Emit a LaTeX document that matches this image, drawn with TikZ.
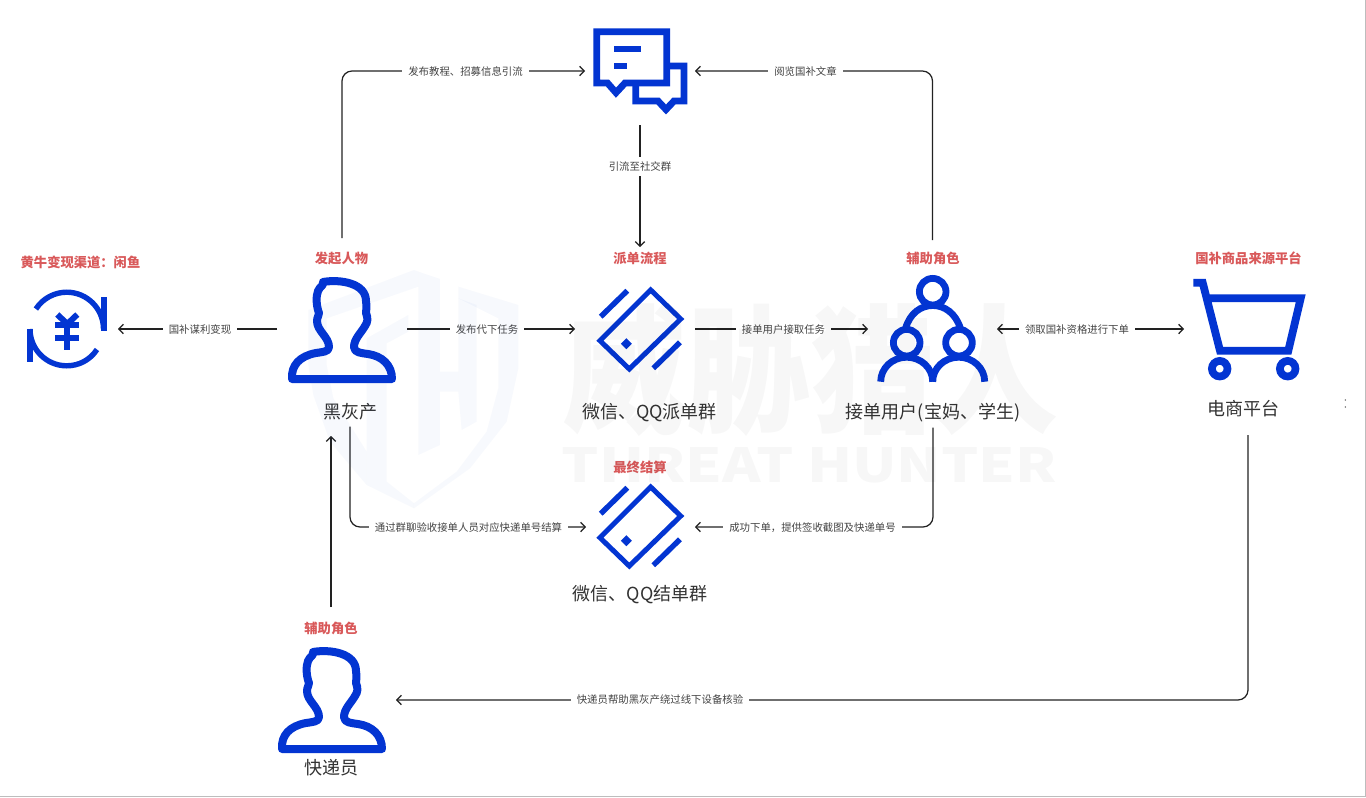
\documentclass[tikz,border=0pt]{standalone}
\usepackage{fontspec}
\usepackage{graphicx}
\setmainfont{Noto Sans CJK SC}
\usetikzlibrary{arrows.meta}
\definecolor{iconblue}{HTML}{0335D2}
\definecolor{redlabel}{HTML}{D9595A}
\definecolor{linedark}{HTML}{222222}
\definecolor{smalltext}{HTML}{444444}
\definecolor{bigtext}{HTML}{333333}
\definecolor{frameline}{HTML}{BDBDBD}
\definecolor{shieldblue}{HTML}{2F62D0}
\tikzset{
  anchorbox/.style={draw=none,fill=none,inner sep=0pt,outer sep=0pt,minimum width=#1},
  conn/.style={draw=linedark,line width=1.25pt,rounded corners=10pt},
  arrowconn/.style={conn,-{Straight Barb[length=4.5pt,width=9.5pt,line width=1.25pt]}},
  flowlabel/.style={fill=white,text=smalltext,inner xsep=6pt,inner ysep=2pt,font=\fontsize{10.4}{12}\selectfont},
  rolelabel/.style={text=redlabel,inner sep=1pt,font=\fontsize{13.3}{16}\selectfont\bfseries},
  namelabel/.style={text=bigtext,inner sep=0pt,minimum height=30pt,font=\fontsize{18}{20}\selectfont},
  iconline/.style={draw=iconblue,fill=none,line width=#1},
  iconline/.default=6.8pt
}
\newcommand{\personshape}{%
  \draw[iconline=8pt,line join=round,line cap=round]
    (292,379) .. controls (291,365) and (300,356) .. (316,353)
    .. controls (322,352) and (329,352) .. (329,347)
    .. controls (329,337) and (317,331) .. (317,321)
    .. controls (317,317) and (319,316) .. (319,313)
    .. controls (316,305) and (316,296) .. (318,291)
    .. controls (320,286) and (324,286) .. (323,282)
    .. controls (340,279) and (366,283) .. (366,301)
    .. controls (367,307) and (366,311) .. (366,313)
    .. controls (368,318) and (368,322) .. (365,326)
    .. controls (361,333) and (354,339) .. (354,347)
    .. controls (354,353) and (362,353) .. (368,354)
    .. controls (382,356) and (392,365) .. (392,379) -- cycle;
}
\newcommand{\cardshape}{%
  \draw[iconline=5pt,line join=miter] (650.7,290) -- (680.7,319) -- (629.3,369) -- (600,340.7) -- cycle;
  \draw[iconline=5.4pt] (600.7,316.7) -- (627.3,290.7);
  \draw[iconline=5.4pt] (653.3,368.3) -- (680,342.3);
  \fill[iconblue] (626.3,338.2) -- (631.8,343.7) -- (626.3,349.2) -- (620.8,343.7) -- cycle;
}
\begin{document}
\begin{tikzpicture}[x=1pt,y=-1pt]
\useasboundingbox (0,0) rectangle (1366,798);
\fill[white] (0,0) rectangle (1366,798);

% invisible anchor nodes around the icons
\node[anchorbox=100pt,minimum height=90pt] (yen) at (68,329) {};
\node[anchorbox=130pt,minimum height=182pt] (boss) at (342,329) {};
\node[anchorbox=110pt,minimum height=108pt] (bubble) at (640,71) {};
\node[anchorbox=120pt,minimum height=164pt] (disp) at (635,329) {};
\node[anchorbox=129pt,minimum height=178pt] (group) at (932.5,329) {};
\node[anchorbox=128pt,minimum height=212pt] (cart) at (1248,329) {};
\node[anchorbox=109pt,minimum height=100pt] (settle) at (640.5,527) {};
\node[anchorbox=130pt,minimum height=186pt] (courier) at (331,700) {};
\coordinate (bossin) at (331,436);

% role labels
\node[rolelabel] (r0) at (80.5,262) {黄牛变现渠道：闲鱼};
\node[rolelabel] (r1) at (341.5,258) {发起人物};
\node[rolelabel] (r2) at (640,258) {派单流程};
\node[rolelabel] (r3) at (933,258) {辅助角色};
\node[rolelabel] (r4) at (1248.5,258) {国补商品来源平台};
\node[rolelabel] (r5) at (640,467) {最终结算};
\node[rolelabel] (r6) at (331,628) {辅助角色};

% name labels
\node[namelabel] (lblboss) at (350,411.5) {黑灰产};
\node[namelabel] (lbldisp) at (649.5,412.5) {微信、QQ派单群};
\node[namelabel] (lblgroup) at (933,412.5) {接单用户(宝妈、学生)};
\node[namelabel] (lblcart) at (1243,408.5) {电商平台};
\node[namelabel] (lblsettle) at (640,594.5) {微信、QQ结单群};
\node[namelabel] (lblcourier) at (331,767.5) {快递员};

% connectors
\draw[arrowconn] (boss.north) |- (bubble.west);
\draw[arrowconn] (group.north) |- (bubble.east);
\draw[arrowconn] (bubble.south) -- (bubble.south |- disp.north);
\draw[arrowconn] (boss.west) -- (yen.east);
\draw[arrowconn] (boss.east) -- (disp.west);
\draw[arrowconn] (disp.east) -- (group.west);
\draw[conn,{Straight Barb[length=4.5pt,width=9.5pt,line width=1.25pt]}-{Straight Barb[length=4.5pt,width=9.5pt,line width=1.25pt]}] (group.east) -- (cart.west);
\draw[arrowconn] (lblboss.south) |- (settle.west);
\draw[arrowconn] (lblgroup.south) |- (settle.east);
\draw[arrowconn] (courier.north) -- (bossin);
\draw[arrowconn] (cart.south) |- (courier.east);

% connector labels
\node[flowlabel] (f1) at (465.5,71.5) {发布教程、招募信息引流};
\node[flowlabel] (f2) at (805.5,71.5) {阅览国补文章};
\node[flowlabel,inner xsep=2pt,inner ysep=5pt] (f3) at (640,166.5) {引流至社交群};
\node[flowlabel] (f4) at (200,330) {国补谋利变现};
\node[flowlabel] (f5) at (487,330) {发布代下任务};
\node[flowlabel] (f6) at (783.5,330) {接单用户接取任务};
\node[flowlabel] (f7) at (1077,330) {领取国补资格进行下单};
\node[flowlabel] (f8) at (468.5,528) {通过群聊验收接单人员对应快递单号结算};
\node[flowlabel] (f9) at (812.5,528) {成功下单，提供签收截图及快递单号};
\node[flowlabel] (f10) at (660,700) {快递员帮助黑灰产绕过线下设备核验};

% chat bubbles icon
\draw[iconline,line join=miter] (625,83) -- (616,92.7) -- (607.5,83) -- (596.7,83) -- (596.7,31.7) -- (666.7,31.7) -- (666.7,83) -- cycle;
\draw[iconline,line join=miter] (669,66) -- (684,66) -- (684,101) -- (674,101) -- (666,109.5) -- (658,101) -- (635.7,101) -- (635.7,85);
\fill[iconblue] (614.3,45.7) rectangle (640.7,52.3);
\fill[iconblue] (614.3,63.3) rectangle (627.3,69.3);

% yen icon
\draw[iconline=5.4pt] (35.9,309) .. controls (43,298) and (55,292.2) .. (66.7,292.2) .. controls (87,292.2) and (103.5,308.6) .. (103.5,329);
\draw[iconline=5.4pt] (30,329) .. controls (30,349.4) and (46.4,365.8) .. (66.7,365.8) .. controls (79,365.8) and (90,360) .. (97,349.5);
\fill[iconblue] (100.7,297.3) rectangle (106.7,330.7);
\fill[iconblue] (27.3,329.3) rectangle (33.3,361.7);
\draw[iconline=6pt] (57.3,314.5) -- (67.3,324) -- (77.3,314.5);
\draw[iconline=6pt] (67.3,324) -- (67.3,350);
\fill[iconblue] (55,322) rectangle (79.3,328.3);
\fill[iconblue] (55,335) rectangle (79.3,341.3);

% people
\personshape
\begin{scope}[shift={(-10,370)}]\personshape\end{scope}

% cards
\cardshape
\begin{scope}[shift={(0,197)}]\cardshape\end{scope}

% group icon
\draw[iconline] (932.7,291.7) circle[radius=13.3pt];
\draw[iconline] (906.7,342.7) circle[radius=13.3pt];
\draw[iconline] (959,342.7) circle[radius=13.3pt];
\draw[iconline] (905.5,328.5) .. controls (910,313) and (921,305.5) .. (932.7,305.5) .. controls (944.5,305.5) and (955.5,313) .. (960.5,328.5);
\draw[iconline] (880.7,381.7) arc[start angle=180,end angle=0,x radius=26pt,y radius=24.5pt];
\draw[iconline] (932.7,381.7) arc[start angle=180,end angle=0,x radius=26pt,y radius=24.5pt];

% cart icon
\draw[iconline=7.8pt,line join=miter] (1193.3,282.7) -- (1202.7,282.7) -- (1220,350.7) -- (1288.3,350.7) -- (1300.7,298.3) -- (1207.3,298.3);
\draw[iconline=7.7pt] (1219.7,368.7) circle[radius=7.8pt];
\draw[iconline=7.7pt] (1287.7,368.7) circle[radius=7.8pt];

% stray dots near right edge
\fill[smalltext] (1345.3,400) circle[radius=0.7pt];
\fill[smalltext] (1345.3,407) circle[radius=0.7pt];

% frame
\draw[frameline,line width=1pt] (1365.5,0) -- (1365.5,796.5) -- (0,796.5);

% watermark
\begin{scope}[opacity=0.03]
\node[inner sep=0pt,text=black] (wm1) at (810,369) {\resizebox{496pt}{120pt}{\bfseries 威胁猎人}};
\node[inner sep=0pt,text=black] (wm2) at (809.5,465.5) {\resizebox{495pt}{35pt}{\bfseries THREAT HUNTER}};
\end{scope}
\begin{scope}[shift={(290,255)},x=0.3333pt,y=-0.3333pt,opacity=0.035]
\fill[shieldblue] (372,45) -- (385,50) -- (385,95) -- (110,190) -- (110,330) -- (130,430) -- (230,590) -- (230,690) -- (120,560) -- (70,420) -- (55,330) -- (55,165) -- cycle;
\fill[shieldblue] (355,180) -- (355,230) -- (290,265) -- (290,680) -- (372,745) -- (372,760) -- (230,690) -- (230,250) -- cycle;
\fill[shieldblue] (385,50) -- (450,72) -- (450,350) -- (505,350) -- (505,410) -- (450,410) -- (450,570) -- (385,600) -- cycle;
\fill[shieldblue] (505,95) -- (685,150) -- (685,340) -- (650,500) -- (540,640) -- (372,760) -- (372,745) -- (500,650) -- (590,530) -- (625,400) -- (625,190) -- (505,130) -- cycle;
\fill[shieldblue] (505,130) -- (560,150) -- (560,500) -- (515,525) -- (505,410) -- (505,350) -- cycle;
\end{scope}
\end{tikzpicture}
\end{document}
